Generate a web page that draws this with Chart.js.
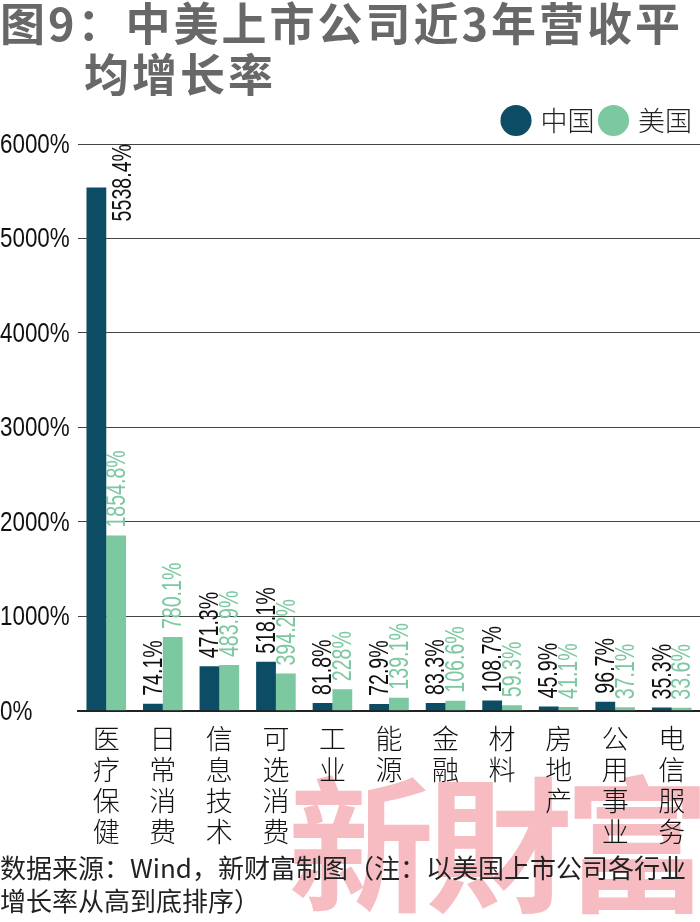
<!DOCTYPE html>
<html>
<head>
<meta charset="utf-8">
<script src="https://cdn.jsdelivr.net/npm/chart.js@4/dist/chart.umd.min.js"></script>
<style>
  body { margin: 0; background: #fff; }
  #wrap { position: relative; width: 700px; height: 922px; overflow: hidden; background: #fff; }
  .title { position: absolute; left: 0; top: -4px; font-family: 'Noto Sans CJK SC', sans-serif; font-weight: bold;
    font-size: 45px; line-height: 51px; color: #686868; white-space: nowrap; letter-spacing: 3px; z-index: 2; }
  .title .l2 { padding-left: 84px; }
  .mark { position: absolute; left: 288px; top: 752px; font-family: 'Noto Sans CJK SC', serif; font-weight: bold;
    font-size: 146px; line-height: 170px; color: #f6bcc1; letter-spacing: -8px; white-space: nowrap; z-index: 0; }
  #chart { position: absolute; left: 0; top: 99px; z-index: 1; }
  .foot { position: absolute; left: 0; top: 850px; font-family: 'Noto Sans CJK SC', sans-serif; font-size: 26px;
    line-height: 33px; color: #222; white-space: nowrap; z-index: 2; }
</style>
</head>
<body>
<div id="wrap">
  <div class="title">图9：中美上市公司近3年营收平<br><span class="l2">均增长率</span></div>
  <div class="mark">新財富</div>
  <canvas id="chart" width="700" height="752"></canvas>
  <div class="foot">数据来源：Wind，新财富制图（注：以美国上市公司各行业<br>增长率从高到底排序）</div>
</div>
<script>
// categories (one char per line, as in the picture)
const categories = ['医疗保健', '日常消费', '信息技术', '可选消费', '工业', '能源', '金融', '材料', '房地产', '公用事业', '电信服务'];
const chinaValues = [5538.4, 74.1, 471.3, 518.1, 81.8, 72.9, 83.3, 108.7, 45.9, 96.7, 35.3];
const usValues = [1854.8, 780.1, 483.9, 394.2, 228, 139.1, 106.6, 59.3, 41.1, 37.1, 33.6];
const yTicks = [0, 1000, 2000, 3000, 4000, 5000, 6000];

const CHINA = '#0c4d65';
const US = '#7cc8a0';
const NUM_FONT = "'Liberation Sans', sans-serif";

// squeeze text sideways, the picture uses a condensed face
function squeezedText(ctx, text, squeeze) {
  ctx.scale(squeeze, 1);
  ctx.fillText(text, 0, 0);
}

// y tick labels, condensed, left aligned at the canvas edge
const yLabels = {
  id: 'yLabels',
  afterDraw(chart) {
    const ctx = chart.ctx;
    const y = chart.scales.y;
    y.ticks.forEach(t => {
      ctx.save();
      ctx.font = '28px ' + NUM_FONT;
      ctx.fillStyle = '#111';
      ctx.textAlign = 'left';
      ctx.textBaseline = 'middle';
      ctx.translate(0, y.getPixelForValue(t.value) + 1);
      squeezedText(ctx, t.value + '%', 0.8);
      ctx.restore();
    });
  }
};

// value labels, rotated, above each bar
const barLabels = {
  id: 'barLabels',
  afterDatasetsDraw(chart) {
    const ctx = chart.ctx;
    const area = chart.chartArea;
    const sq = 0.7;
    chart.data.datasets.forEach((ds, i) => {
      const meta = chart.getDatasetMeta(i);
      meta.data.forEach((bar, j) => {
        const text = ds.data[j] + '%';
        ctx.save();
        ctx.font = '28px ' + NUM_FONT;
        ctx.fillStyle = i === 0 ? '#111' : US;
        const w = ctx.measureText(text).width * sq;
        let x = bar.x, y = bar.y - 8;
        if (y - w < area.top) {
          // no room above: put it beside the bar, against the top
          x = bar.x + bar.width + 6;
          y = area.top + w;
        }
        ctx.translate(x, y);
        ctx.rotate(-Math.PI / 2);
        ctx.textAlign = 'left';
        ctx.textBaseline = 'middle';
        ctx.translate(0, 1);
        squeezedText(ctx, text, sq);
        ctx.restore();
      });
    });
  }
};

new Chart(document.getElementById('chart'), {
  type: 'bar',
  data: {
    labels: categories.map(c => c.split('')),
    datasets: [
      { label: '中国', data: chinaValues, backgroundColor: CHINA },
      { label: '美国', data: usValues, backgroundColor: US }
    ]
  },
  options: {
    responsive: false,
    animation: false,
    layout: { padding: 0 },
    datasets: { bar: { categoryPercentage: 0.7, barPercentage: 1.0 } },
    plugins: {
      tooltip: { enabled: false },
      legend: {
        position: 'top',
        align: 'end',
        labels: {
          usePointStyle: true,
          pointStyle: 'circle',
          boxWidth: 22,
          boxHeight: 22,
          padding: 8,
          color: '#222',
          font: { family: "'Noto Sans CJK SC', sans-serif", size: 27, weight: 300 }
        }
      }
    },
    scales: {
      x: {
        grid: { display: false },
        border: { display: true, color: '#222', width: 2 },
        ticks: {
          color: '#111',
          maxRotation: 0,
          autoSkip: false,
          padding: 4,
          font: { family: "'Noto Sans CJK SC', sans-serif", size: 27, weight: 300, lineHeight: 1.15 }
        }
      },
      y: {
        min: 0,
        max: 6000,
        afterBuildTicks: axis => { axis.ticks = yTicks.map(v => ({ value: v })); },
        afterFit: axis => { axis.width = 78; },
        grid: { color: '#444', lineWidth: 1, drawTicks: false },
        border: { display: false },
        ticks: { display: false }
      }
    }
  },
  plugins: [barLabels, yLabels]
});
</script>
</body>
</html>
